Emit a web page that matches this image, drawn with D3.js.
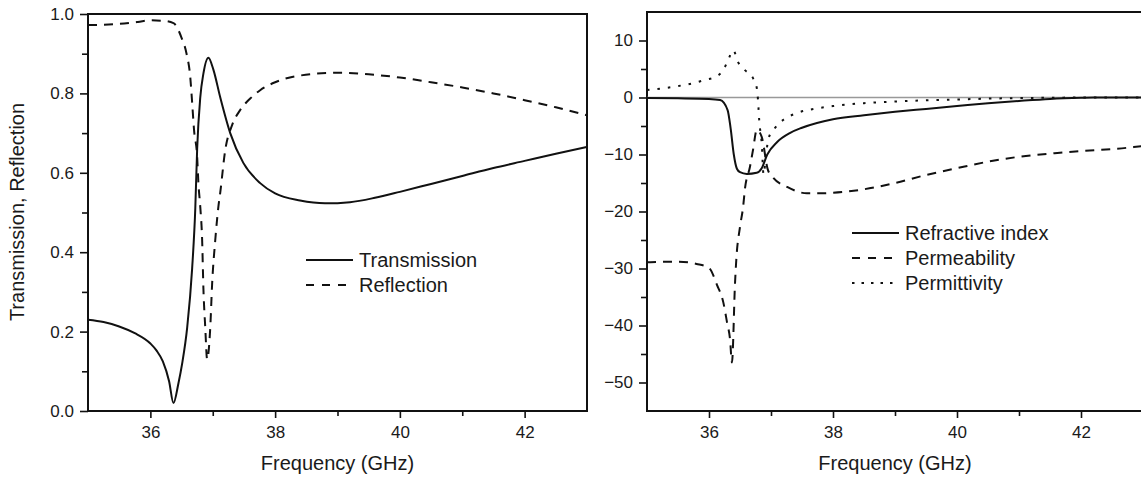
<!DOCTYPE html>
<html>
<head>
<meta charset="utf-8">
<script src="https://cdn.jsdelivr.net/npm/d3@7/dist/d3.min.js"></script>
<style>
body{margin:0;background:#fff;}
text{font-family:"Liberation Sans",Arial,sans-serif;fill:#1a1a1a;}
</style>
</head>
<body>
<div id="chart"></div>
<script>
// left panel: transmission / reflection
const freqT = [35.0,35.25,35.5,35.75,36.0,36.1,36.2,36.3,36.37,36.45,36.51,36.59,36.67,36.72,36.75,36.8,36.85,36.93,37.01,37.12,37.28,37.49,37.76,38.0,38.4,38.8,39.2,39.6,40.0,40.5,41.0,41.5,42.0,42.5,43.0];
const transmission = [0.23,0.224,0.213,0.196,0.17,0.152,0.125,0.075,0.02,0.07,0.12,0.21,0.36,0.51,0.66,0.79,0.85,0.89,0.86,0.79,0.70,0.625,0.574,0.548,0.53,0.523,0.526,0.537,0.552,0.572,0.592,0.612,0.630,0.648,0.665];

const freqR = [35.0,35.5,35.8,36.0,36.2,36.37,36.5,36.58,36.64,36.67,36.7,36.75,36.77,36.8,36.83,36.85,36.88,36.91,36.96,36.99,37.04,37.09,37.12,37.2,37.31,37.44,37.6,37.76,38.0,38.4,39.0,39.5,40.0,40.5,41.0,41.5,42.0,42.5,43.0];
const reflection = [0.972,0.975,0.98,0.984,0.983,0.977,0.94,0.90,0.84,0.776,0.708,0.64,0.574,0.514,0.43,0.31,0.21,0.13,0.21,0.32,0.43,0.514,0.55,0.657,0.72,0.758,0.787,0.808,0.828,0.845,0.852,0.848,0.84,0.828,0.815,0.80,0.783,0.765,0.745];

// right panel: effective parameters
const freqN = [35.0,35.5,36.0,36.18,36.3,36.35,36.4,36.45,36.5,36.61,36.77,36.85,36.94,37.1,37.31,37.5,38.0,38.5,39.0,39.5,40.0,40.5,41.0,41.5,42.0,42.2,43.0];
const refIndex = [-0.1,-0.15,-0.25,-0.45,-2.2,-5.5,-10.0,-12.5,-13.1,-13.4,-13.2,-12.4,-10.0,-7.8,-6.2,-5.3,-3.8,-3.1,-2.5,-2.0,-1.5,-1.0,-0.6,-0.25,-0.05,0,0];

const freqMu = [35.0,35.5,35.8,36.0,36.13,36.23,36.29,36.34,36.37,36.42,36.44,36.5,36.55,36.58,36.66,36.71,36.77,36.85,36.95,37.03,37.26,37.58,37.84,38.0,38.44,39.0,39.5,40.0,40.58,41.0,41.66,42.0,42.85,43.0];
const permeability = [-28.9,-28.8,-29.2,-29.9,-32.9,-35.9,-39.4,-42.5,-46.5,-32.5,-28.5,-22.7,-19.2,-16.0,-12.2,-9.2,-5.7,-6.9,-12.7,-14.0,-15.7,-16.8,-16.8,-16.7,-16.2,-15.0,-13.6,-12.4,-11.1,-10.4,-9.7,-9.4,-8.7,-8.5];

const freqEps = [35.0,35.5,35.74,35.94,36.1,36.23,36.31,36.39,36.47,36.58,36.71,36.77,36.79,36.81,36.85,36.88,36.92,36.96,37.06,37.2,37.4,37.75,38.0,38.5,39.0,39.5,40.0,40.5,41.0,41.5,42.0,43.0];
const permittivity = [1.3,2.0,2.5,3.1,3.6,4.8,6.6,8.3,6.2,4.8,3.4,1.7,-0.4,-4.0,-8.0,-13.5,-10.0,-7.2,-5.4,-3.9,-2.8,-1.9,-1.5,-1.0,-0.7,-0.5,-0.35,-0.2,-0.1,-0.05,0,0];

const xTicks = [36,38,40,42];
const xMinor = [37,39,41];
const yTicksL = [0,0.2,0.4,0.6,0.8,1.0];
const yMinorL = [0.1,0.3,0.5,0.7,0.9];
const yTicksR = [-50,-40,-30,-20,-10,0,10];
const yMinorR = [-45,-35,-25,-15,-5,5];

const W = 1141, H = 477;

const svg = d3.select('#chart').append('svg')
    .attr('width', W)
    .attr('height', H);

function panel(box, yDomain, yTicks, yMinor, yFmt){
    const x = d3.scaleLinear().domain([35,43]).range([box.left, box.right]);
    const y = d3.scaleLinear().domain(yDomain).range([box.bottom, box.top]);
    const g = svg.append('g');

    // minor ticks
    g.append('g').attr('transform', `translate(0,${box.bottom})`)
        .call(d3.axisBottom(x).tickValues(xMinor).tickSize(5).tickFormat(''));
    g.append('g').attr('transform', `translate(${box.left},0)`)
        .call(d3.axisLeft(y).tickValues(yMinor).tickSize(6).tickFormat(''));

    // major ticks
    g.append('g').attr('transform', `translate(0,${box.bottom})`)
        .call(d3.axisBottom(x).tickValues(xTicks).tickSize(7).tickPadding(8).tickFormat(d3.format('d')));
    g.append('g').attr('transform', `translate(${box.left},0)`)
        .call(d3.axisLeft(y).tickValues(yTicks).tickSize(8).tickPadding(6).tickFormat(yFmt));

    g.selectAll('.domain').remove();
    g.selectAll('.tick line').attr('stroke','#111').attr('stroke-width',1.6);
    g.selectAll('.tick text').style('font-size','17px').attr('fill','#1a1a1a');

    g.append('rect')
        .attr('x', box.left).attr('y', box.top)
        .attr('width', box.right - box.left)
        .attr('height', box.bottom - box.top)
        .attr('fill','none').attr('stroke','#111').attr('stroke-width',2);

    g.append('text')
        .attr('x', x(39)).attr('y', 470)
        .attr('text-anchor','middle')
        .style('font-size','20px')
        .text('Frequency (GHz)');

    return {x, y, g};
}

function curve(p, fs, vs, dash){
    const line = d3.line()
        .x(d => p.x(d[0]))
        .y(d => p.y(d[1]))
        .curve(d3.curveMonotoneX);
    p.g.append('path')
        .datum(fs.map((f,i) => [f, vs[i]]))
        .attr('d', line)
        .attr('fill','none')
        .attr('stroke','#111')
        .attr('stroke-width',2)
        .attr('stroke-dasharray', dash);
}

function legend(p, items, lx, ly){
    items.forEach((it,i) => {
        const yy = ly + i*25;
        p.g.append('line')
            .attr('x1', lx).attr('x2', lx+47)
            .attr('y1', yy).attr('y2', yy)
            .attr('stroke','#111').attr('stroke-width',2)
            .attr('stroke-dasharray', it.dash);
        p.g.append('text')
            .attr('x', lx+53).attr('y', yy)
            .attr('dy','0.35em')
            .style('font-size','20px')
            .text(it.name);
    });
}

// left
const L = panel({left:88, right:587, top:14, bottom:411}, [0,1], yTicksL, yMinorL, d3.format('.1f'));
curve(L, freqT, transmission, null);
curve(L, freqR, reflection, '9,7');
legend(L, [{name:'Transmission', dash:null},{name:'Reflection', dash:'8,8'}], 306, 260);

svg.append('text')
    .attr('transform','translate(24,212) rotate(-90)')
    .attr('text-anchor','middle')
    .style('font-size','20px')
    .text('Transmission, Reflection');

// right
const R = panel({left:647, right:1143, top:12, bottom:411}, [-55,15], yTicksR, yMinorR, d3.format('d'));
R.g.append('line')
    .attr('x1', R.x(35)).attr('x2', R.x(43))
    .attr('y1', R.y(0)).attr('y2', R.y(0))
    .attr('stroke','#999').attr('stroke-width',1.5);
curve(R, freqN, refIndex, null);
curve(R, freqMu, permeability, '9,7');
curve(R, freqEps, permittivity, '2.5,8');
legend(R, [{name:'Refractive index', dash:null},{name:'Permeability', dash:'8,8'},{name:'Permittivity', dash:'2.5,7'}], 852, 233);
</script>
</body>
</html>
